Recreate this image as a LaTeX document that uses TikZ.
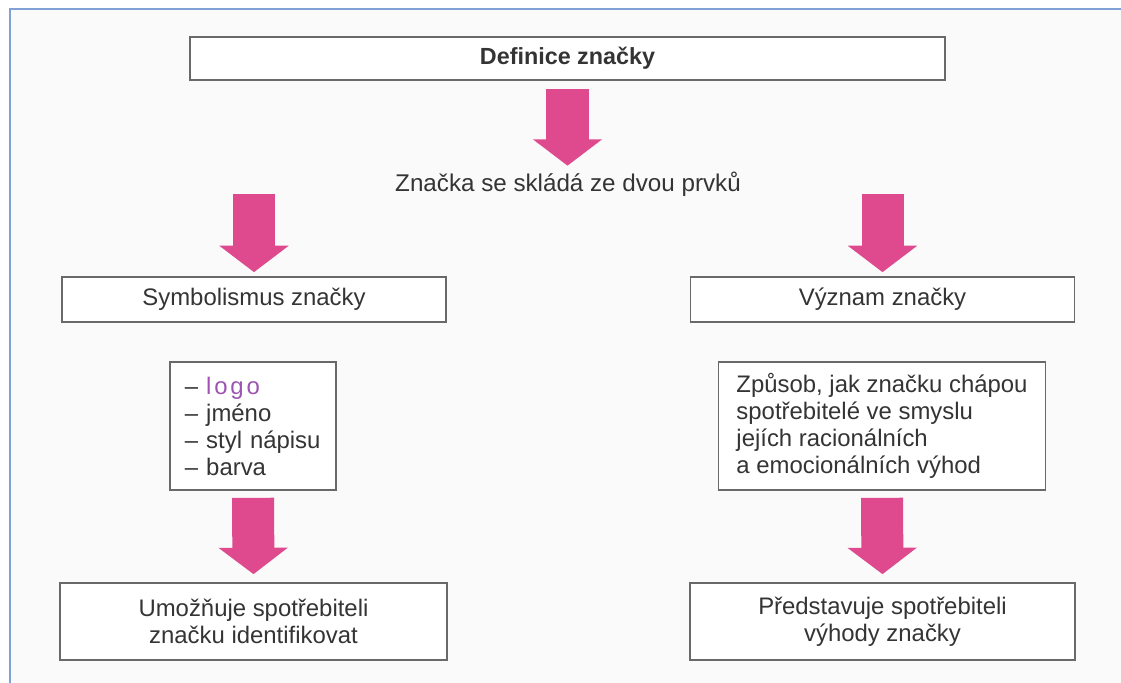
\documentclass[tikz,border=0pt]{standalone}
\usepackage{fontspec}
\setmainfont{Liberation Sans}
\usepackage{tikz}
\usetikzlibrary{arrows.meta,positioning}
\definecolor{zpink}{RGB}{222,74,141}
\definecolor{zgray}{RGB}{105,105,105}
\definecolor{zframe}{RGB}{128,160,214}
\definecolor{zlogo}{RGB}{158,82,178}
\definecolor{ztext}{RGB}{52,52,52}
\definecolor{zbg}{RGB}{250,250,250}
\tikzset{
  zblock/.style={
    rectangle, draw=zgray, fill=white, line width=1.2pt,
    align=center, text=ztext, inner sep=0pt,
    font=\fontsize{17}{19.2}\selectfont
  },
  zarrow/.style={draw=zpink, line width=1.05cm,
    -{Triangle[length=0.66cm, width=1.7cm]}}
}

\begin{document}
\begin{tikzpicture}[x=0.025cm, y=-0.025cm]
        \useasboundingbox (0,0) rectangle (1121,683);
        \fill[white] (0,0) rectangle (1121,683);
        \fill[zbg] (10,9) rectangle (1121,683);
        \draw[zframe, line width=1.2pt] (1121,9) -- (10,9) -- (10,683);
        % bloky
        \node[zblock, minimum width=18.875cm, minimum height=1.075cm,
              font=\fontsize{16.6}{19.2}\selectfont\bfseries]   (def) at (567.5,58.5) {Definice značky};
        \node[text=ztext, inner sep=0pt,
              font=\fontsize{17.2}{19.2}\selectfont]             (prvky) at (568,184) {Značka se skládá ze dvou prvků};
        \node[zblock, minimum width=9.6cm, minimum height=1.125cm]   (sym) at (254,299.5) {Symbolismus značky};
        \node[zblock, minimum width=9.6cm, minimum height=1.125cm]   (vyz) at (882.5,299.5) {Význam značky};
        \node[zblock, minimum width=4.15cm, minimum height=3.2cm,
              align=left, text width=3.4cm, inner xsep=0.375cm]       (seznam) at (253,426)
              {-- {\color{zlogo}l\kern2pt o\kern2pt g\kern2pt o}\\-- jméno\\-- styl nápisu\\-- barva};
        \node[zblock, minimum width=8.15cm, minimum height=3.2cm,
              align=left, inner xsep=0.45cm]                          (zpusob) at (882,426)
              {Způsob, jak značku chápou\\spotřebitelé ve smyslu\\jejích racionálních\\a emocionálních výhod};
        \node[zblock, minimum width=9.675cm, minimum height=1.925cm] (umoz) at (253.5,621.5)
              {Umožňuje spotřebiteli\\značku identifikovat};
        \node[zblock, minimum width=9.625cm, minimum height=1.925cm] (pred) at (882.5,621.5)
              {Představuje spotřebiteli\\výhody značky};
        % sipky
        \draw[zarrow] ([yshift=-0.2cm]def.south) -- ++(0,-1.92cm);
        \draw[zarrow] ([yshift=2.05cm]sym.north) -- ([yshift=0.1cm]sym.north);
        \draw[zarrow] ([yshift=2.05cm]vyz.north) -- ([yshift=0.1cm]vyz.north);
        \draw[zarrow] ([yshift=-0.175cm]seznam.south) -- ([yshift=0.2cm]umoz.north);
        \draw[zarrow] ([yshift=-0.175cm]zpusob.south) -- ([yshift=0.2cm]pred.north);
      \end{tikzpicture}
\end{document}
